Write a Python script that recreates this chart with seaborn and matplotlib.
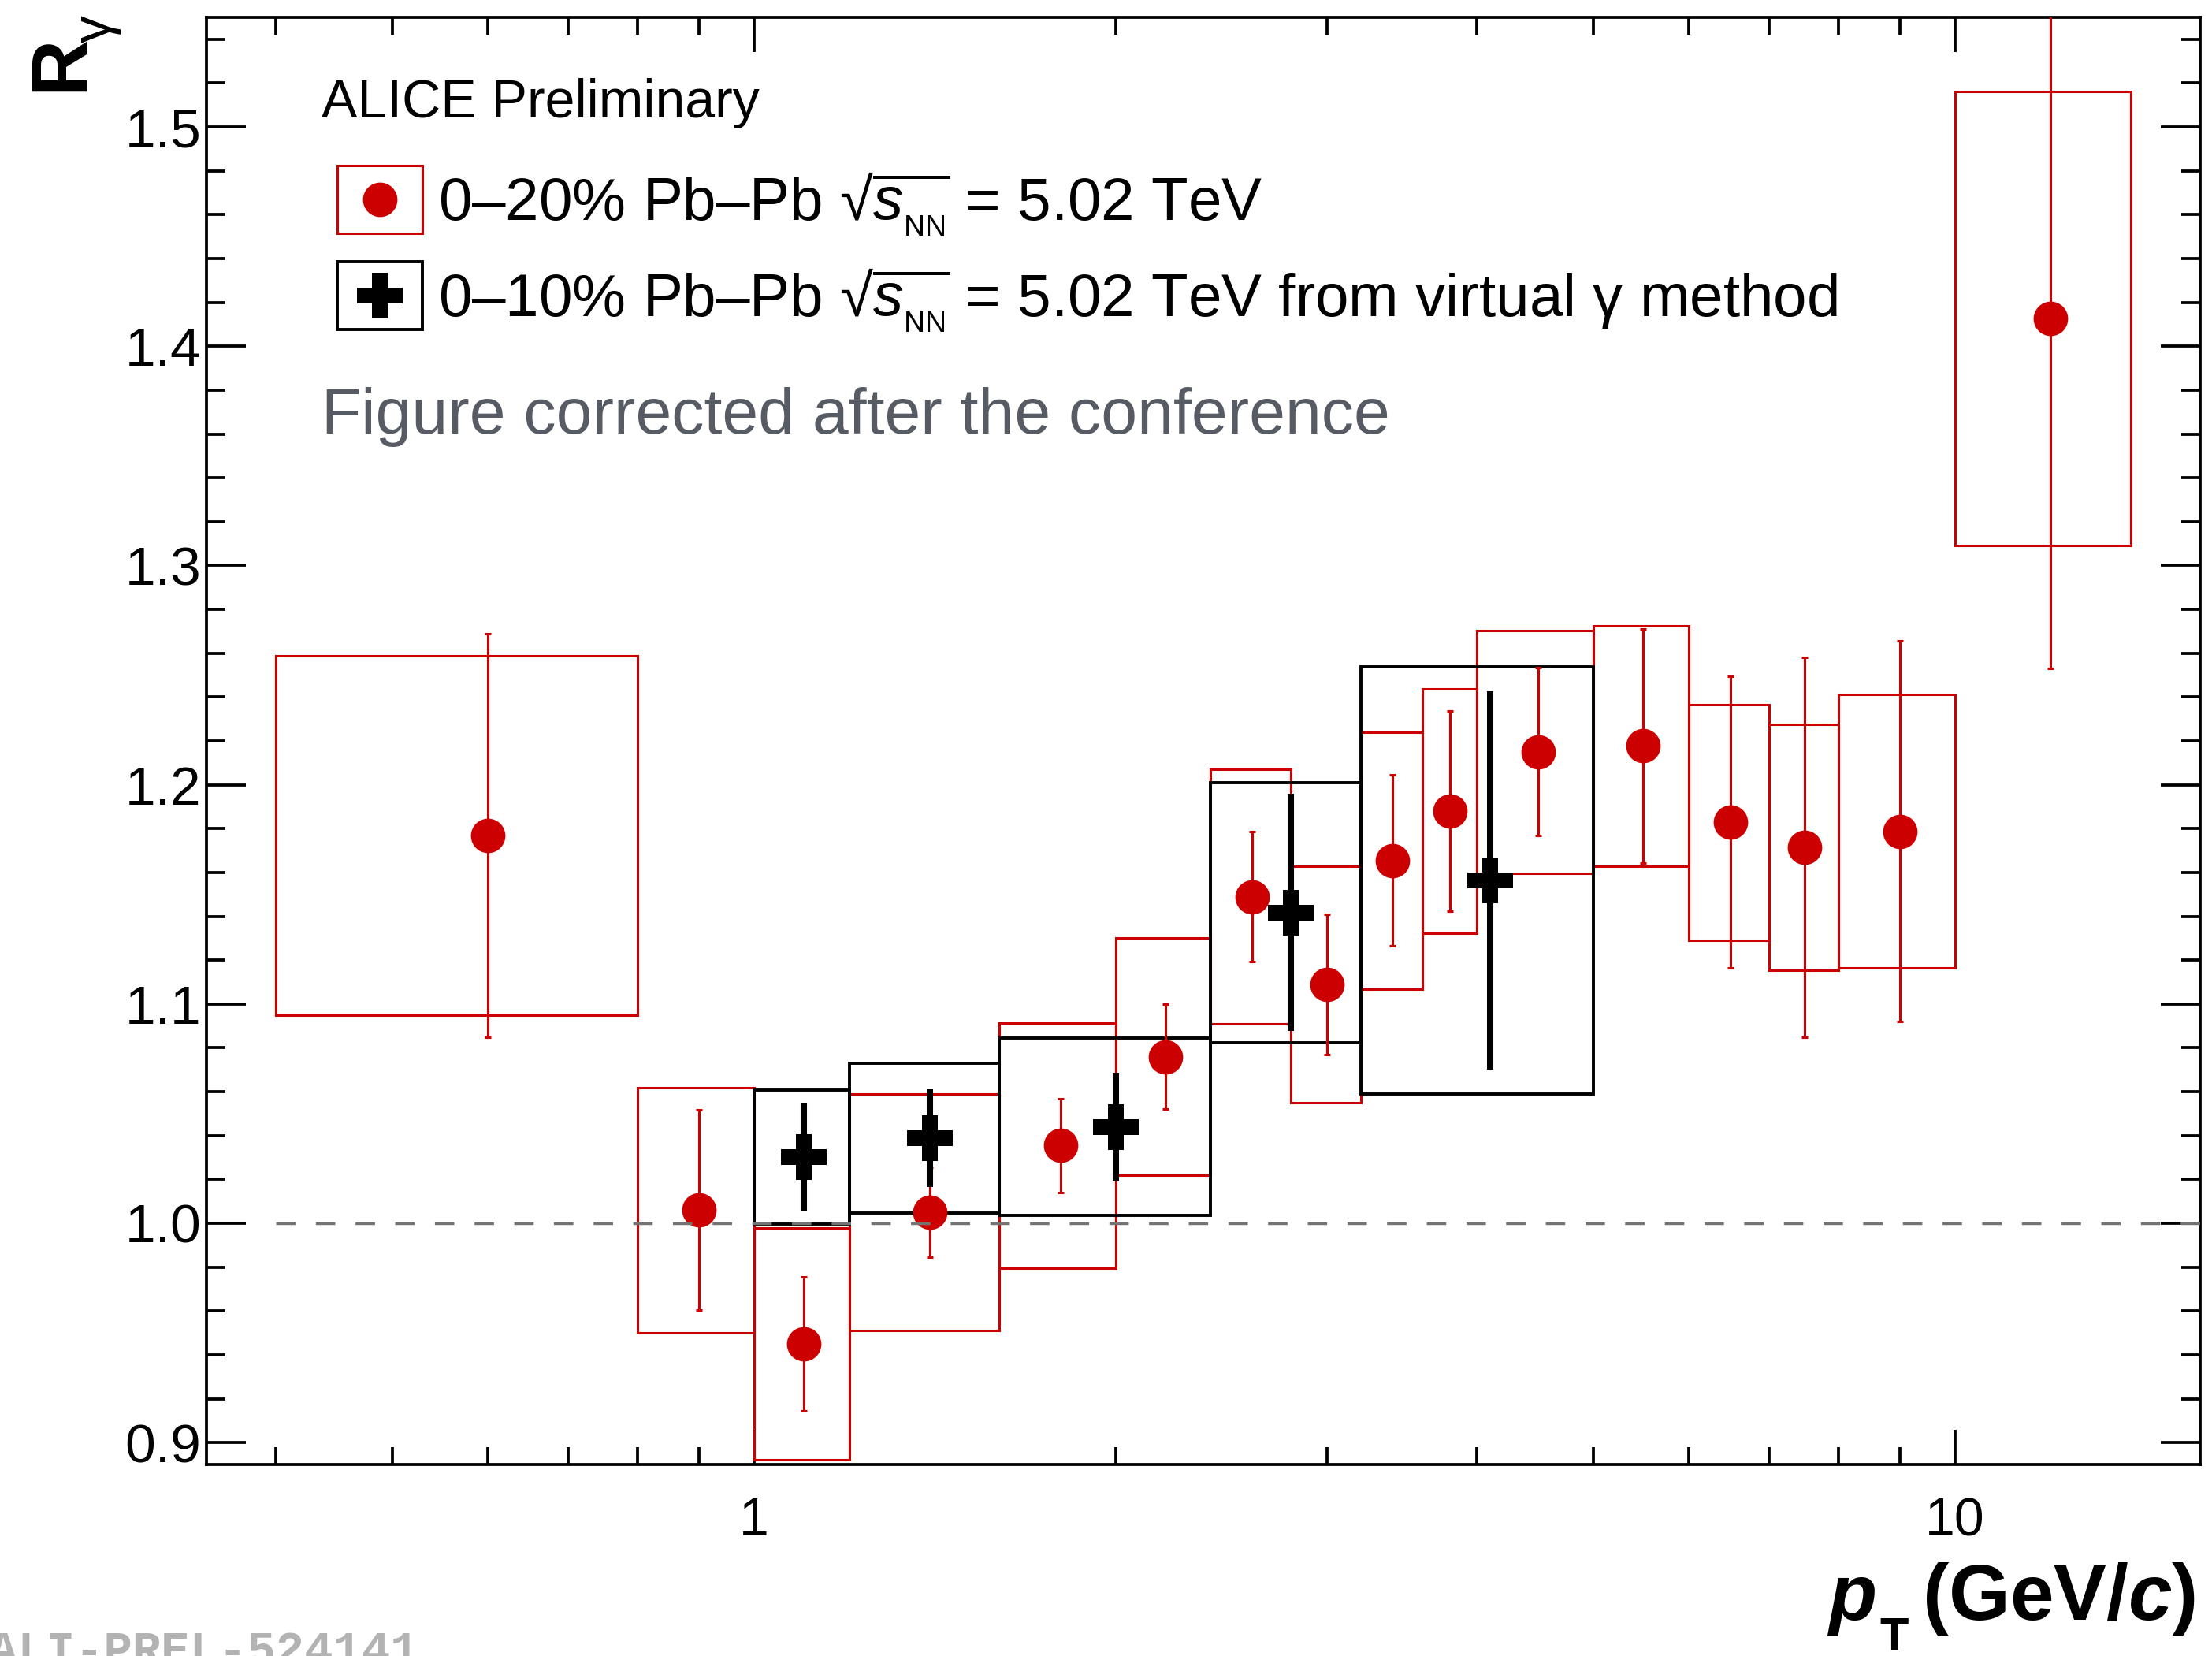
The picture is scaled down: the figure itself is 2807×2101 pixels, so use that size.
import numpy as np
import matplotlib
matplotlib.use("Agg")
import matplotlib.pyplot as plt
import seaborn as sns
from matplotlib.patches import Rectangle
from matplotlib.lines import Line2D
from matplotlib.legend_handler import HandlerTuple, HandlerPatch
from matplotlib.ticker import FixedLocator, FixedFormatter, MultipleLocator, NullFormatter, LogLocator

# ---------------- data ----------------
# 0-20% Pb-Pb (real photons)
cent020_pt = [0.6, 0.9, 1.1, 1.4, 1.8, 2.2, 2.6, 3.0, 3.4, 3.8, 4.5, 5.5, 6.5, 7.5, 9.0, 12.0]
cent020_lo = [0.4, 0.8, 1.0, 1.2, 1.6, 2.0, 2.4, 2.8, 3.2, 3.6, 4.0, 5.0, 6.0, 7.0, 8.0, 10.0]
cent020_hi = [0.8, 1.0, 1.2, 1.6, 2.0, 2.4, 2.8, 3.2, 3.6, 4.0, 5.0, 6.0, 7.0, 8.0, 10.0, 14.0]
cent020_R = [1.177, 1.006, 0.945, 1.005, 1.0355, 1.076, 1.149, 1.109, 1.1655, 1.188,
             1.215, 1.2177, 1.1828, 1.1714, 1.1788, 1.4127]
cent020_stat = [0.092, 0.0457, 0.0305, 0.0205, 0.0214, 0.024, 0.0295, 0.032, 0.0389, 0.0458,
                0.0383, 0.0534, 0.0665, 0.0866, 0.0869, 0.1597]
cent020_sys = [0.082, 0.056, 0.053, 0.054, 0.0559, 0.0542, 0.0579, 0.054, 0.0586, 0.0558,
               0.0555, 0.0548, 0.0537, 0.056, 0.0623, 0.1036]

# 0-10% Pb-Pb (virtual photon method)
cent010_pt = [1.1, 1.4, 2.0, 2.8, 4.1]
cent010_lo = [1.0, 1.2, 1.6, 2.4, 3.2]
cent010_hi = [1.2, 1.6, 2.4, 3.2, 5.0]
cent010_R = [1.0301, 1.0388, 1.044, 1.1418, 1.1563]
cent010_stat = [0.0248, 0.0224, 0.0246, 0.054, 0.0862]
cent010_sys = [0.0305, 0.0342, 0.0404, 0.0593, 0.0974]

x_major_ticks = [1, 10]
x_tick_labels = ["1", "10"]
y_major_ticks = [0.9, 1.0, 1.1, 1.2, 1.3, 1.4, 1.5]
y_tick_labels = ["0.9", "1.0", "1.1", "1.2", "1.3", "1.4", "1.5"]

ref_level = 1.0
ref_start = 0.4
x_range = (0.35, 16)
y_range = (0.89, 1.55)

label_020 = r"0–20% Pb–Pb √$\overline{s_{_{\rm NN}}}$ = 5.02 TeV"
label_010 = r"0–10% Pb–Pb √$\overline{s_{_{\rm NN}}}$ = 5.02 TeV from virtual γ method"

# ---------------- style ----------------
sns.set_theme(style="ticks")
plt.rcParams["font.family"] = ["Liberation Sans", "DejaVu Sans"]
plt.rcParams["mathtext.fontset"] = "custom"
plt.rcParams["mathtext.rm"] = "Liberation Sans"
plt.rcParams["mathtext.it"] = "Liberation Sans:italic"
plt.rcParams["mathtext.bf"] = "Liberation Sans:bold"
try:
    plt.rcParams["mathtext.bfit"] = "Liberation Sans:italic:bold"
except Exception:
    pass
plt.rcParams["text.color"] = "black"
plt.rcParams["axes.labelcolor"] = "black"
plt.rcParams["xtick.color"] = "black"
plt.rcParams["ytick.color"] = "black"

RED = "#cc0000"
W, H, DPI = 2807, 2101, 100

fig = plt.figure(figsize=(W / DPI, H / DPI), dpi=DPI)
fig.patch.set_facecolor("white")
ax = fig.add_axes([262 / W, 1 - 1858 / H, (2792 - 262) / W, (1858 - 22) / H])
ax.set_facecolor("white")
ax.set_xscale("log")

# systematic boxes
for lo, hi, r, s in zip(cent020_lo, cent020_hi, cent020_R, cent020_sys):
    ax.add_patch(Rectangle((lo, r - s), hi - lo, 2 * s, fill=False, edgecolor=RED,
                           linewidth=2.2, zorder=2))
for lo, hi, r, s in zip(cent010_lo, cent010_hi, cent010_R, cent010_sys):
    ax.add_patch(Rectangle((lo, r - s), hi - lo, 2 * s, fill=False, edgecolor="black",
                           linewidth=2.8, zorder=3))

# statistical errors + markers
ax.errorbar(cent020_pt, cent020_R, yerr=cent020_stat, fmt="none", ecolor=RED,
            elinewidth=2.2, capsize=2.8, capthick=2.2, zorder=4)
sns.scatterplot(x=cent020_pt, y=cent020_R, marker="o", s=31.5 ** 2, color=RED,
                linewidth=0, ax=ax, zorder=5, legend=False)
ax.errorbar(cent010_pt, cent010_R, yerr=cent010_stat, fmt="none", ecolor="black",
            elinewidth=5.8, capsize=0, zorder=6)
sns.scatterplot(x=cent010_pt, y=cent010_R, marker="P", s=41.8 ** 2, color="black",
                linewidth=0, ax=ax, zorder=7, legend=False)

# reference line
ax.hlines(ref_level, ref_start, x_range[1], colors="#737373", linestyles=(0, (7.1, 7.4)),
          linewidth=2.5, zorder=8)

ax.set_xlim(*x_range)
ax.set_ylim(*y_range)

# ticks
ax.xaxis.set_major_locator(FixedLocator(x_major_ticks))
ax.xaxis.set_major_formatter(FixedFormatter(x_tick_labels))
ax.xaxis.set_minor_locator(LogLocator(base=10, subs=np.arange(2, 10), numticks=30))
ax.xaxis.set_minor_formatter(NullFormatter())
ax.yaxis.set_major_locator(FixedLocator(y_major_ticks))
ax.yaxis.set_major_formatter(FixedFormatter(y_tick_labels))
ax.yaxis.set_minor_locator(MultipleLocator(0.02))
ax.tick_params(axis="both", which="both", direction="in", top=True, right=True,
               width=2.7, color="black", labelcolor="black")
ax.tick_params(axis="x", which="major", length=31.5, pad=29, labelsize=49)
ax.tick_params(axis="x", which="minor", length=16)
ax.tick_params(axis="y", which="major", length=36, pad=5, labelsize=50)
ax.tick_params(axis="y", which="minor", length=17.5)
for sp in ax.spines.values():
    sp.set_linewidth(2.7)
    sp.set_color("black")

# legend
LEG_FS = 55
BOX_H = 86 / (LEG_FS * DPI / 72)


def box_patch(legend, orig_handle, xdescent, ydescent, width, height, fontsize):
    cy = (height - ydescent) / 2
    return Rectangle((-xdescent, cy - BOX_H * fontsize / 2), width, BOX_H * fontsize)


h_red = (Rectangle((0, 0), 1, 1, fill=False, edgecolor=RED, linewidth=2.2),
         Line2D([], [], ls="none", marker="o", ms=31.5, color=RED, mew=0))
h_blk = (Rectangle((0, 0), 1, 1, fill=False, edgecolor="black", linewidth=2.8),
         Line2D([], [], ls="none", marker="P", ms=41.8, color="black", mew=0))
ax.legend([h_red, h_blk], [label_020, label_010],
          handler_map={tuple: HandlerTuple(ndivide=1, pad=0),
                       Rectangle: HandlerPatch(patch_func=box_patch)},
          loc="upper left", bbox_to_anchor=(0.0656, 0.8937), frameon=False,
          fontsize=LEG_FS, handlelength=1.414, handleheight=0.7, handletextpad=0.26,
          labelspacing=0.478, borderpad=0, borderaxespad=0)

# annotations
ax.text(0.0577, 0.9308, "ALICE Preliminary", transform=ax.transAxes, fontsize=49,
        ha="left", va="baseline")
ax.text(0.0577, 0.7124, "Figure corrected after the conference", transform=ax.transAxes,
        fontsize=59.3, ha="left", va="baseline", color="#575c64")

# axis titles
fig.text(104 / W, 1 - 116 / H, "R", rotation=90, rotation_mode="anchor", ha="left",
         va="baseline", fontsize=72, fontweight="bold")
fig.text(140 / W, 1 - 54 / H, "γ", rotation=90, rotation_mode="anchor", ha="left",
         va="baseline", fontsize=50)

fig.text(2318 / W, 1 - 2055 / H, r"$\mathbfit{p}$", ha="left", va="baseline", fontsize=72,
         fontweight="bold")
fig.text(2385 / W, 1 - 2094 / H, "T", ha="left", va="baseline", fontsize=43,
         fontweight="bold")
fig.text(2786 / W, 1 - 2055 / H, r"(GeV/$\mathbfit{c}$)", ha="right", va="baseline",
         fontsize=72, fontweight="bold")

# preliminary id
fig.text(-14 / W, 1 - 2068 / H, "ALI-PREL-524141", ha="left", va="top", fontsize=43.7,
         fontweight="bold", family=["Liberation Mono", "DejaVu Sans Mono"], color="#b3b3b3")

fig.savefig("out.png", dpi=DPI)
